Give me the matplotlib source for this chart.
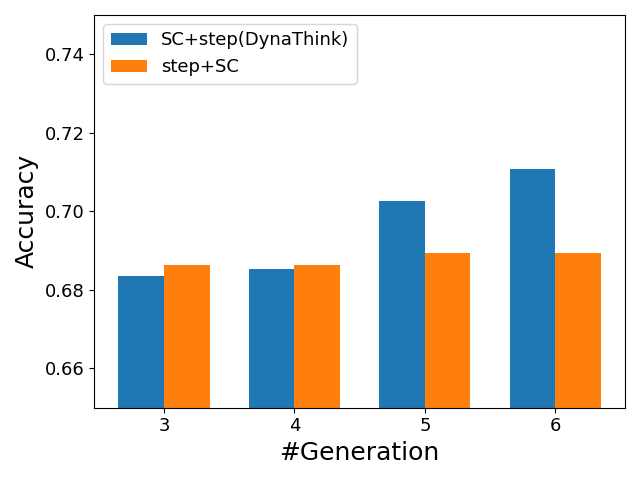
import numpy as np
import matplotlib
matplotlib.use("Agg")
import matplotlib.pyplot as plt

generations = ["3", "4", "5", "6"]
dynathink = [0.6836, 0.6854, 0.7026, 0.7108]
step_sc = [0.6864, 0.6864, 0.6895, 0.6895]

x = np.arange(len(generations))
width = 0.35

fig, ax = plt.subplots(figsize=(6.4, 4.8))
ax.bar(x - width / 2, dynathink, width, label="SC+step(DynaThink)")
ax.bar(x + width / 2, step_sc, width, label="step+SC")

ax.set_xlabel("#Generation", fontsize=18)
ax.set_ylabel("Accuracy", fontsize=18)
ax.set_xticks(x)
ax.set_xticklabels(generations)
ax.tick_params(axis="both", labelsize=13)
ax.set_ylim(0.65, 0.75)
ax.legend(loc="upper left", fontsize=13)

plt.tight_layout()
plt.savefig("out.png", dpi=100)
